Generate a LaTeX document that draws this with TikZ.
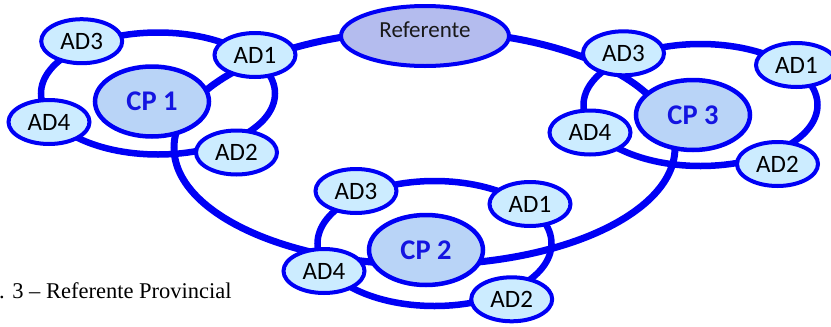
\documentclass[tikz,border=0pt]{standalone}
\usepackage{fontspec}
\setmainfont{Carlito}
\newfontfamily\capfont{Liberation Serif}
\usetikzlibrary{shapes.geometric}
\definecolor{lineblue}{RGB}{0,0,245}
\definecolor{adfill}{RGB}{204,236,255}
\definecolor{cpfill}{RGB}{185,212,247}
\definecolor{reffill}{RGB}{180,188,238}
\definecolor{cptext}{RGB}{20,20,225}
\begin{document}
\begin{tikzpicture}[x=1pt,y=-1pt,
  ringshape/.style={ellipse, draw=lineblue, line width=6.5pt, minimum width=234pt, minimum height=122pt, inner sep=0pt},
  bigloop/.style={ellipse, draw=lineblue, line width=7pt, minimum width=501pt, minimum height=234pt, inner sep=0pt},
  adnode/.style={ellipse, draw=lineblue, fill=adfill, line width=4pt, minimum width=81pt, minimum height=44pt, inner sep=0pt, font=\fontsize{25}{25}\selectfont, text=black},
  cpnode/.style={ellipse, draw=lineblue, fill=cpfill, line width=4.5pt, minimum width=114pt, minimum height=70pt, inner sep=0pt, font=\fontsize{28.5}{28.5}\selectfont\bfseries, text=cptext},
  refnode/.style={ellipse, draw=lineblue, fill=reffill, line width=4pt, minimum width=168pt, minimum height=60pt, inner sep=0pt, font=\fontsize{23}{23}\selectfont, text=black!90, text height=16pt, text depth=14pt}]
\useasboundingbox (0,0) rectangle (831,327);
% rings
\node[bigloop] (loop) at (424.5,147.7) {};
\node[ringshape] (ring1) at (158,93.5) {};
\node[ringshape, minimum height=125pt] (ring2) at (434.5,243.5) {};
\node[ringshape] (ring3) at (700.5,105) {};
% referente
\node[refnode] (ref) at (425,36) {Referente};
% CP1 group
\node[cpnode] (cp1) at (152,101.5) {CP 1};
\node[adnode] (a13) at (81.7,41.2) {AD3};
\node[adnode] (a11) at (255,55) {AD1};
\node[adnode] (a14) at (49,122) {AD4};
\node[adnode] (a12) at (236.5,152.5) {AD2};
% CP3 group
\node[cpnode] (cp3) at (693,115) {CP 3};
\node[adnode] (a33) at (623.5,53.3) {AD3};
\node[adnode] (a31) at (796.5,65) {AD1};
\node[adnode] (a34) at (590,132.5) {AD4};
\node[adnode] (a32) at (777.5,164) {AD2};
% CP2 group
\node[cpnode] (cp2) at (426,250) {CP 2};
\node[adnode] (a23) at (356,191) {AD3};
\node[adnode] (a21) at (530,204) {AD1};
\node[adnode] (a24) at (324,271) {AD4};
\node[adnode] (a22) at (511.7,299.3) {AD2};
% caption
\node[anchor=base west, font=\capfont\fontsize{22.5}{22.5}\selectfont, inner sep=0pt] (cap) at (-1,298) {. 3 – Referente Provincial};
\end{tikzpicture}
\end{document}
